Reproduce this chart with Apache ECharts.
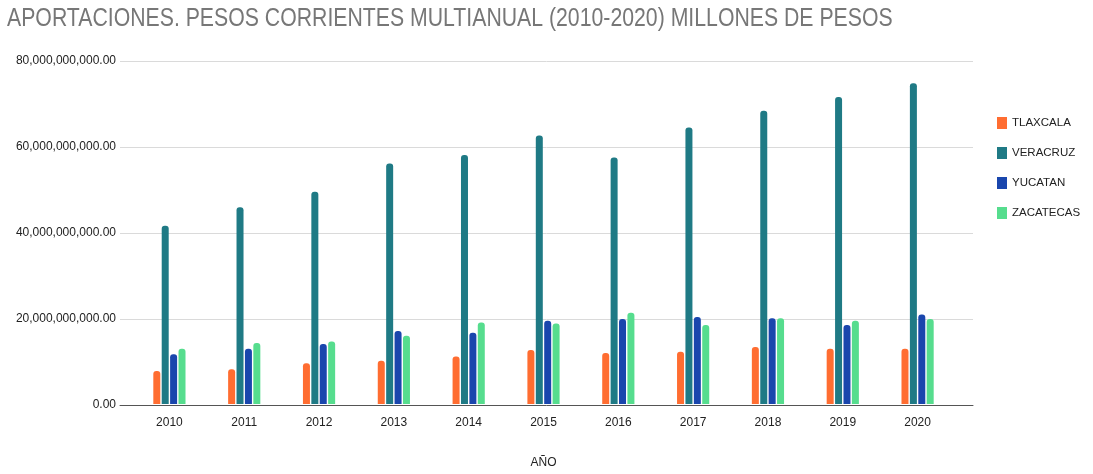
<!DOCTYPE html>
<html><head><meta charset="utf-8">
<script src="https://cdn.jsdelivr.net/npm/echarts@6/dist/echarts.min.js"></script>
<style>html,body{margin:0;padding:0;background:#fff}#c{width:1093px;height:474px}</style>
</head><body><div id="c"></div>
<script>
const years = ['2010','2011','2012','2013','2014','2015','2016','2017','2018','2019','2020'];
const tlaxcala = [7.7e9, 8.1e9, 9.5e9, 10.1e9, 11.1e9, 12.6e9, 11.9e9, 12.2e9, 13.3e9, 12.9e9, 12.9e9];
const veracruz = [41.6e9, 45.9e9, 49.5e9, 56.1e9, 58.1e9, 62.6e9, 57.5e9, 64.5e9, 68.4e9, 71.6e9, 74.8e9];
const yucatan = [11.6e9, 12.9e9, 14.0e9, 17.0e9, 16.6e9, 19.4e9, 19.8e9, 20.3e9, 20.0e9, 18.4e9, 20.9e9];
const zacatecas = [12.9e9, 14.2e9, 14.6e9, 15.9e9, 19.0e9, 18.8e9, 21.3e9, 18.4e9, 20.0e9, 19.4e9, 19.8e9];
const seriesNames = ['TLAXCALA','VERACRUZ','YUCATAN','ZACATECAS'];
const colors = ['#ff6d31','#1f7a85','#1a46ad','#56dd8e'];
const titleText = 'APORTACIONES. PESOS CORRIENTES MULTIANUAL (2010-2020) MILLONES DE PESOS';
const font = "'Liberation Sans',Arial,sans-serif";
function fmt(v){
  const s = Math.round(v).toString().replace(/\B(?=(\d{3})+(?!\d))/g, ',');
  return s + '.00';
}
const chart = echarts.init(document.getElementById('c'));
const data = [tlaxcala, veracruz, yucatan, zacatecas];
chart.setOption({
  animation:false,
  color: colors,
  graphic:[{ type:'text', left:7, top:7, scaleX:0.85,
    style:{ text:titleText, fontFamily:font, fontSize:25, fill:'#777' } }],
  legend:{ orient:'vertical', left:992, top:112, itemWidth:10, itemHeight:12, itemGap:18, icon:'rect',
    textStyle:{ fontFamily:font, fontSize:11.5, color:'#222' } },
  grid:[{ left:132, right:138, top:61, bottom:69 }, { left:120, right:120, top:61, bottom:69 }],
  xAxis:[{ type:'category', gridIndex:0, data:years, name:'AÑO', nameLocation:'middle', nameGap:53,
    nameTextStyle:{ fontFamily:font, fontSize:12, color:'#222' },
    axisTick:{show:false}, axisLine:{ show:false },
    axisLabel:{ fontFamily:font, fontSize:12, color:'#222', margin:13 } },
    { type:'category', gridIndex:1, data:years, axisTick:{show:false}, axisLabel:{show:false},
      axisLine:{ lineStyle:{ color:'#555', width:1 } } }],
  yAxis:[{ type:'value', gridIndex:0, min:0, max:80e9, interval:20e9,
    axisLabel:{ show:false }, splitLine:{ show:false } },
    { type:'value', gridIndex:1, min:0, max:80e9, interval:20e9,
    axisLabel:{ formatter:fmt, fontFamily:font, fontSize:12, color:'#222', margin:4 },
    splitLine:{ lineStyle:{ color:'#dadada' } } }],
  series: seriesNames.map((n,i)=>({ name:n, type:'bar', xAxisIndex:0, yAxisIndex:0, data:data[i], barWidth:7, barGap:'20%',
    z:3, itemStyle:{ borderRadius:[3,3,0,0] } }))
});
</script></body></html>
